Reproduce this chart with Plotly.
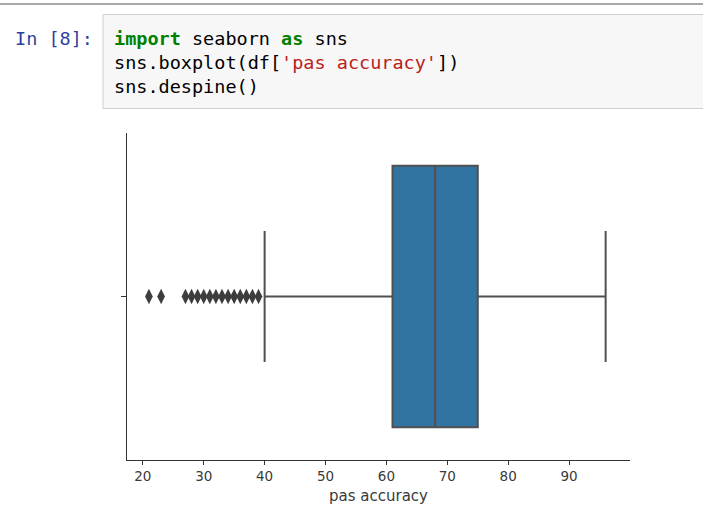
import plotly.graph_objects as go

# ---- data ----
box_q1 = [61]
box_median = [68]
box_q3 = [75]
box_lower = [40]
box_upper = [96]
outliers = [21, 23, 27, 28, 29, 30, 31, 32, 33, 34, 35, 36, 37, 38, 39]
x_ticks = [20, 30, 40, 50, 60, 70, 80, 90]
x_label = "pas accuracy"

W, H = 703, 515
def px(x):
    return x / W
def py(y):
    return 1 - y / H

fig = go.Figure()
fig.add_trace(go.Box(
    orientation="h",
    y=[0],
    q1=box_q1, median=box_median, q3=box_q3,
    lowerfence=box_lower, upperfence=box_upper,
    fillcolor="#3274a1",
    line=dict(color="#505050", width=2),
    width=0.8,
    whiskerwidth=0.5,
    boxpoints=False,
    hoverinfo="skip",
    showlegend=False,
))
fig.add_trace(go.Scatter(
    x=outliers, y=[0] * len(outliers),
    mode="markers",
    marker=dict(symbol="diamond-tall", size=11, color="#3d3d3d",
                line=dict(width=0)),
    hoverinfo="skip",
    showlegend=False,
))

axis_font = dict(family="DejaVu Sans", size=13.5, color="#3a3a3a")
fig.update_layout(
    width=W, height=H, autosize=False,
    margin=dict(l=0, r=0, t=0, b=0),
    paper_bgcolor="white", plot_bgcolor="white",
    xaxis=dict(
        domain=[px(127), px(630)],
        range=[17.4, 100.0],
        tickvals=x_ticks,
        ticks="outside", ticklen=4, tickcolor="#333333", tickwidth=1,
        showline=True, linecolor="#333333", linewidth=1,
        showgrid=False, zeroline=False,
        tickfont=axis_font,
        title=dict(text=x_label, font=dict(family="DejaVu Sans", size=15, color="#3a3a3a"), standoff=7),
        anchor="y",
    ),
    yaxis=dict(
        domain=[py(460), py(133)],
        range=[0.5, -0.5],
        tickvals=[0], ticktext=[""],
        ticks="outside", ticklen=5, tickcolor="#333333", tickwidth=1,
        showline=True, linecolor="#333333", linewidth=1,
        showgrid=False, zeroline=False,
        anchor="x",
    ),
)

# notebook chrome
fig.add_shape(type="line", xref="paper", yref="paper",
              x0=0, x1=1, y0=py(4), y1=py(4),
              line=dict(color="#a8a8a8", width=2))
fig.add_shape(type="rect", xref="paper", yref="paper",
              x0=px(103), x1=px(703.5), y0=py(108.5), y1=py(14.5),
              fillcolor="#f7f7f7", line=dict(color="#cfcfcf", width=1))

mono = "DejaVu Sans Mono"
fig.add_annotation(x=px(13), y=py(38), xref="paper", yref="paper",
                   xanchor="left", yanchor="middle", showarrow=False,
                   text="In [8]:", font=dict(family=mono, size=18.5, color="#303f9f"))
code_lines = [
    "<b><span style='color:#008000'>import</span></b> seaborn <b><span style='color:#008000'>as</span></b> sns",
    "sns.boxplot(df[<span style='color:#ba2121'>'pas accuracy'</span>])",
    "sns.despine()",
]
for i, t in enumerate(code_lines):
    fig.add_annotation(x=px(112), y=py(38 + 24 * i), xref="paper", yref="paper",
                       xanchor="left", yanchor="middle", showarrow=False,
                       text=t, font=dict(family=mono, size=18.5, color="#000000"))

fig.write_html("out.html", config={"displayModeBar": False},
               post_script="document.body.style.margin='0px';document.body.style.overflow='hidden';")
